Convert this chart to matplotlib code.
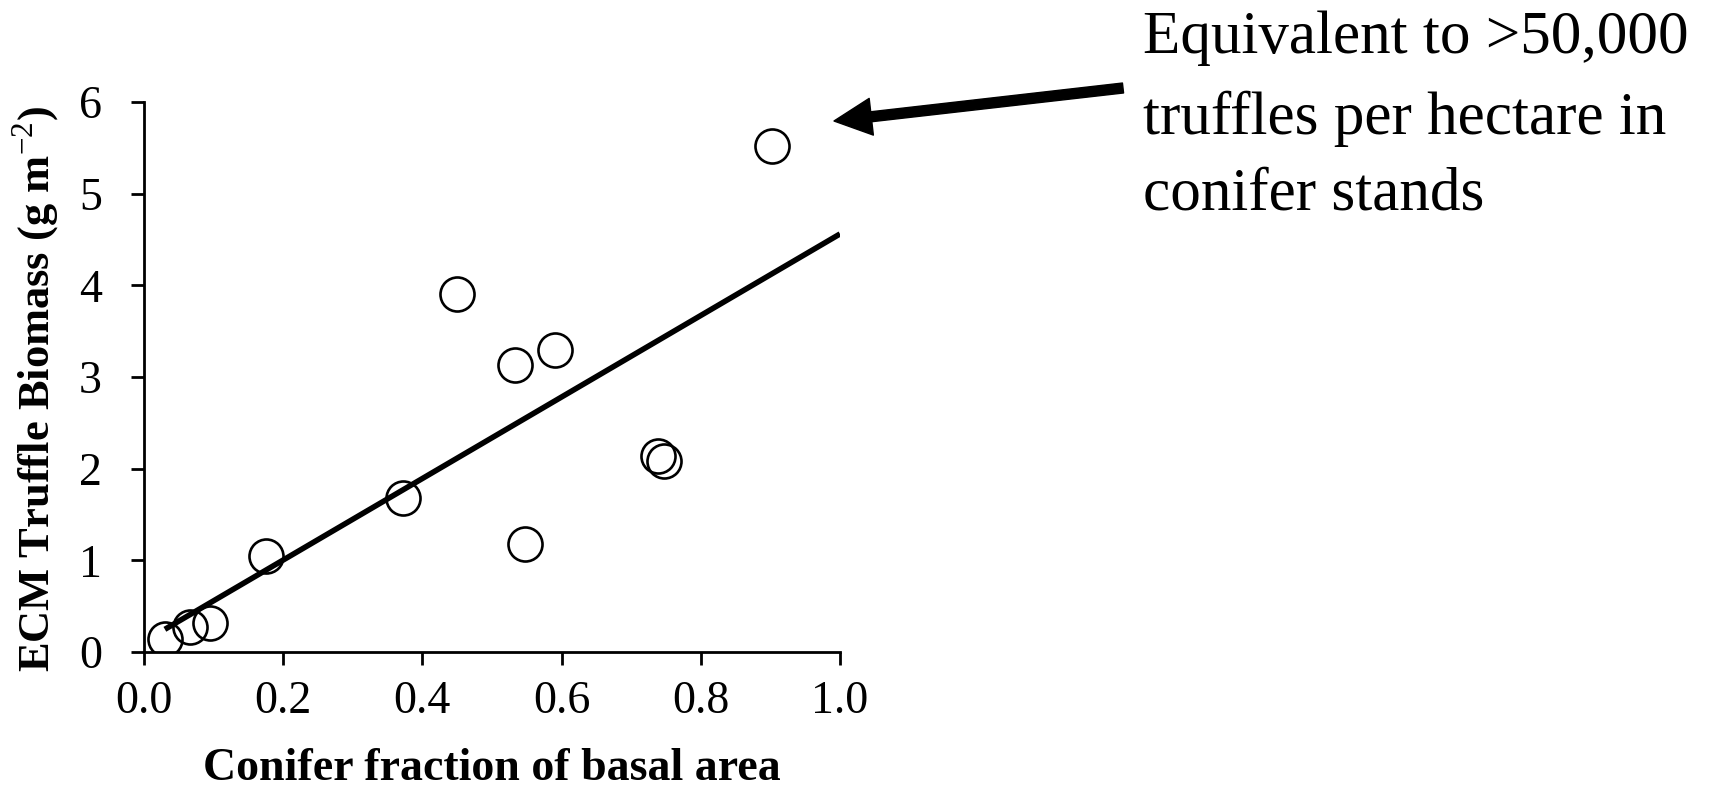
import matplotlib
matplotlib.use("Agg")
import matplotlib.pyplot as plt
import numpy as np

# values
conifer_frac = [0.030, 0.066, 0.095, 0.175, 0.372, 0.450, 0.533, 0.590, 0.547, 0.739, 0.747, 0.903]
truffle_biomass = [0.14, 0.27, 0.32, 1.05, 1.68, 3.90, 3.13, 3.29, 1.18, 2.14, 2.08, 5.52]
x_ticks = [0.0, 0.2, 0.4, 0.6, 0.8, 1.0]
y_ticks = [0, 1, 2, 3, 4, 5, 6]
note_lines = ["Equivalent to >50,000", "truffles per hectare in", "conifer stands"]

plt.rcParams["font.family"] = ["Liberation Serif", "DejaVu Serif"]
plt.rcParams["mathtext.fontset"] = "custom"
plt.rcParams["mathtext.rm"] = "Liberation Serif"
plt.rcParams["mathtext.bf"] = "Liberation Serif:bold"

W, H = 1724, 790
fig = plt.figure(figsize=(W / 100, H / 100), dpi=100)
ax = fig.add_axes([144 / W, 1 - 652 / H, 696 / W, 550 / H])

# least-squares trend line, from the first point to x = 1
slope, icept = np.polyfit(conifer_frac, truffle_biomass, 1)
xl = np.array([min(conifer_frac), 1.0])
ax.plot(xl, icept + slope * xl, color="black", linewidth=4.0, solid_capstyle="butt", zorder=2)
ax.plot(conifer_frac, truffle_biomass, linestyle="none", marker="o", markersize=24.5,
        markerfacecolor="none", markeredgecolor="black", markeredgewidth=1.9, zorder=3)

ax.set_xlim(0, 1)
ax.set_ylim(0, 6)
ax.set_xticks(x_ticks)
ax.set_xticklabels([f"{v:.1f}" for v in x_ticks])
ax.set_yticks(y_ticks)
for s in ["top", "right"]:
    ax.spines[s].set_visible(False)
for s in ["left", "bottom"]:
    ax.spines[s].set_linewidth(2.0)
ax.tick_params(axis="both", direction="out", length=9.4, width=2.0, labelsize=33)
ax.tick_params(axis="x", pad=11)
ax.tick_params(axis="y", pad=21)

ax.set_xlabel("Conifer fraction of basal area", fontsize=33, fontweight="bold", labelpad=18)
ax.set_ylabel(r"ECM Truffle Biomass (g m$^{\mathrm{-2}}$)", fontsize=32, fontweight="bold")
ax.yaxis.set_label_coords(-0.118, 0.478)

# callout arrow and note
ax.annotate("", xy=(834, H - 121), xytext=(1123, H - 88),
            xycoords="figure pixels", textcoords="figure pixels",
            arrowprops=dict(width=7.2, headwidth=26.6, headlength=27,
                            facecolor="black", edgecolor="black"))
for line, base in zip(note_lines, [53, 134, 210]):
    fig.text(1143 / W, 1 - base / H, line, fontsize=44, ha="left", va="baseline")

fig.savefig("out.png", dpi=100, facecolor="white")
